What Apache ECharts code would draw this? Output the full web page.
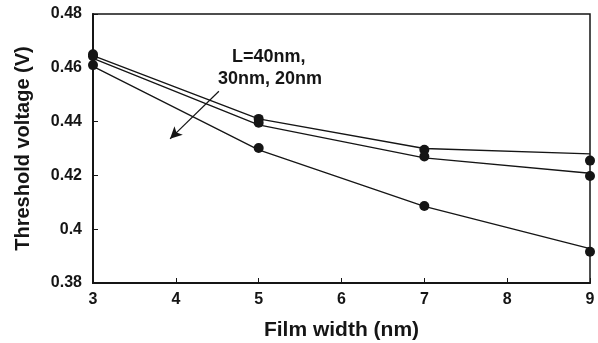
<!DOCTYPE html>
<html><head><meta charset="utf-8">
<script src="https://cdn.jsdelivr.net/npm/echarts@6/dist/echarts.min.js"></script>
<style>html,body{margin:0;padding:0;background:#fff}#c{width:598px;height:343px}</style>
</head><body><div id="c"></div>
<script>
const xValues = [3, 5, 7, 9];
const xTicks = [3, 4, 5, 6, 7, 8, 9];
const yTicks = [0.38, 0.4, 0.42, 0.44, 0.46, 0.48];
// trend lines
const line40 = [0.4645, 0.4410, 0.4300, 0.4280];
const line30 = [0.4635, 0.4388, 0.4265, 0.4208];
const line20 = [0.4605, 0.4295, 0.4085, 0.3928];
// measured points
const pts40 = [0.4650, 0.4410, 0.4295, 0.4255];
const pts30 = [0.4643, 0.4396, 0.4270, 0.4198];
const pts20 = [0.4610, 0.4302, 0.4086, 0.3916];
const annotation = ['L=40nm,', '30nm, 20nm'];
const arrowFrom = [4.52, 0.4513];
const arrowTo = [3.93, 0.4336];

const C = '#151515';
const font = 'Liberation Sans, Arial, sans-serif';
const pair = a => a.map((v, i) => [xValues[i], v]);
const lineS = d => ({type: 'line', data: pair(d), symbol: 'none', lineStyle: {color: C, width: 1.3}, silent: true, z: 2});
const ptS = d => ({type: 'scatter', data: pair(d), symbol: 'circle', symbolSize: 10, itemStyle: {color: C, opacity: 1}, z: 3});

const chart = echarts.init(document.getElementById('c'));
chart.setOption({
  animation: false,
  grid: {left: 93, right: 8, top: 14, bottom: 60, show: true, borderColor: C, borderWidth: 1.5,
    containLabel: false, outerBoundsMode: 'none'},
  xAxis: {
    type: 'value', min: 3, max: 9, interval: 1,
    name: 'Film width (nm)', nameLocation: 'middle', nameGap: 37,
    nameTextStyle: {fontFamily: font, fontWeight: 'bold', fontSize: 21, color: C},
    axisLine: {lineStyle: {color: C, width: 2}},
    axisTick: {inside: true, length: 5, lineStyle: {color: C, width: 1}},
    axisLabel: {fontFamily: font, fontWeight: 'bold', fontSize: 16, color: C, margin: 9},
    splitLine: {show: false}
  },
  yAxis: {
    type: 'value', min: 0.38, max: 0.48, interval: 0.02,
    name: 'Threshold voltage (V)', nameLocation: 'middle', nameGap: 60,
    nameTextStyle: {fontFamily: font, fontWeight: 'bold', fontSize: 20, color: C},
    axisLine: {lineStyle: {color: C, width: 2}},
    axisTick: {inside: true, length: 5, lineStyle: {color: C, width: 1}},
    axisLabel: {fontFamily: font, fontWeight: 'bold', fontSize: 16, color: C, margin: 11,
      padding: [4, 0, 0, 0],
      formatter: v => String(+v.toFixed(2))},
    splitLine: {show: false}
  },
  series: [
    lineS(line40), lineS(line30),
    Object.assign(lineS(line20), {
      markLine: {
        silent: true, symbol: ['none', 'arrow'], symbolSize: [9, 12],
        label: {show: false},
        lineStyle: {color: C, width: 1.2, type: 'solid'},
        data: [[{coord: arrowFrom}, {coord: arrowTo}]]
      }
    }),
    ptS(pts40), ptS(pts30), ptS(pts20)
  ],
  graphic: [
    {type: 'text', left: 232, top: 48, style: {text: annotation[0], fontFamily: font, fontWeight: 'bold', fontSize: 18, fill: C}},
    {type: 'text', left: 218, top: 70, style: {text: annotation[1], fontFamily: font, fontWeight: 'bold', fontSize: 18, fill: C}}
  ]
});
</script></body></html>
